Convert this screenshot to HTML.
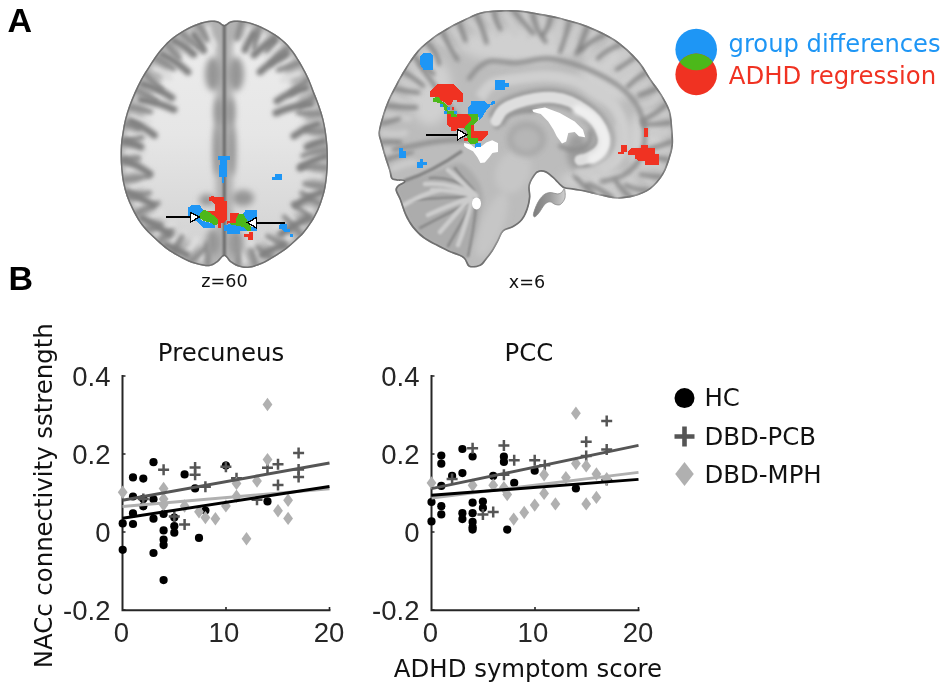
<!DOCTYPE html>
<html lang="en"><head><meta charset="utf-8"><title>Figure</title>
<style>
html,body{margin:0;padding:0;background:#fff}
body{width:945px;height:685px;overflow:hidden}
svg{display:block}
text{white-space:pre}
</style></head><body>
<svg width="945" height="685" viewBox="0 0 945 685">
<rect width="945" height="685" fill="#fff"/>
<defs>
<filter id="b0" filterUnits="userSpaceOnUse" x="100" y="0" width="600" height="290"><feGaussianBlur stdDeviation="0.6"/></filter>
<filter id="b1" filterUnits="userSpaceOnUse" x="100" y="0" width="600" height="290"><feGaussianBlur stdDeviation="1"/></filter>
<filter id="b2" filterUnits="userSpaceOnUse" x="100" y="0" width="600" height="290"><feGaussianBlur stdDeviation="2"/></filter>
<filter id="b3" filterUnits="userSpaceOnUse" x="100" y="0" width="600" height="290"><feGaussianBlur stdDeviation="3.2"/></filter>
<filter id="b5" filterUnits="userSpaceOnUse" x="100" y="0" width="600" height="290"><feGaussianBlur stdDeviation="5"/></filter>
</defs>
<clipPath id="cax"><path d="M224.3 25.0C226.2 25.0 227.8 22.2 230.0 21.5C232.2 20.8 233.9 20.4 237.6 20.6C241.3 20.9 246.9 21.4 252.0 23.0C257.1 24.6 262.9 27.2 268.0 30.0C273.1 32.8 278.3 36.2 282.5 39.7C286.7 43.2 289.7 46.6 293.0 51.0C296.3 55.4 299.7 61.3 302.4 66.0C305.1 70.7 307.0 74.6 309.0 79.0C311.0 83.4 312.6 88.1 314.3 92.6C316.1 97.1 318.0 101.6 319.5 106.0C321.0 110.4 322.4 114.7 323.5 119.0C324.6 123.3 325.3 127.6 326.0 132.0C326.7 136.4 327.2 140.8 327.5 145.5C327.8 150.2 328.0 155.6 328.0 160.0C328.0 164.4 327.8 167.8 327.5 172.0C327.2 176.2 326.7 181.0 326.0 185.0C325.3 189.0 324.8 191.8 323.5 196.0C322.2 200.2 320.5 205.6 318.5 210.0C316.5 214.4 314.0 218.8 311.6 222.6C309.2 226.4 306.6 229.9 304.0 233.0C301.4 236.1 298.8 238.2 295.8 241.0C292.8 243.8 289.5 246.8 286.0 249.5C282.5 252.2 278.6 254.6 274.6 257.0C270.6 259.4 266.4 262.2 262.0 264.0C257.6 265.8 252.0 267.6 248.0 268.0C244.0 268.4 241.0 267.5 238.0 266.5C235.0 265.5 232.3 263.8 230.0 262.0C227.7 260.2 226.3 256.0 224.3 256.0C222.3 256.0 220.1 260.4 218.0 262.0C215.9 263.6 214.0 264.8 212.0 265.5C210.0 266.2 209.1 266.6 205.8 266.2C202.5 265.8 196.4 264.5 192.0 263.0C187.6 261.5 183.6 259.2 179.4 257.0C175.2 254.8 170.7 252.2 167.0 249.5C163.3 246.8 160.2 243.9 157.0 241.0C153.8 238.1 150.4 235.1 147.5 232.0C144.6 228.9 142.3 226.4 139.7 222.6C137.1 218.8 134.2 213.4 132.0 209.0C129.8 204.6 128.0 200.3 126.5 196.0C125.0 191.7 123.9 187.4 123.0 183.0C122.1 178.6 121.6 174.0 121.2 169.7C120.8 165.4 120.7 161.0 120.6 157.0C120.5 153.0 120.5 149.7 120.8 145.5C121.1 141.3 121.8 136.4 122.5 132.0C123.2 127.6 123.9 123.3 125.0 119.0C126.1 114.7 127.4 110.4 129.0 106.0C130.6 101.6 132.4 97.1 134.4 92.6C136.4 88.1 138.6 83.4 141.0 79.0C143.4 74.6 146.1 70.5 149.0 66.0C151.9 61.5 155.0 56.4 158.5 52.0C162.0 47.6 165.8 43.4 170.0 39.7C174.2 36.0 179.3 32.7 184.0 30.0C188.7 27.3 193.5 25.1 198.0 23.5C202.5 21.9 207.6 20.9 211.0 20.6C214.4 20.3 216.3 20.8 218.5 21.5C220.7 22.2 222.4 25.0 224.3 25.0Z"/></clipPath>
<g clip-path="url(#cax)">
<linearGradient id="gwm" x1="0" y1="40" x2="0" y2="250" gradientUnits="userSpaceOnUse"><stop offset="0" stop-color="#ececec"/><stop offset="0.45" stop-color="#e6e6e6"/><stop offset="1" stop-color="#d2d2d2"/></linearGradient>
<path d="M224.3 25.0C226.2 25.0 227.8 22.2 230.0 21.5C232.2 20.8 233.9 20.4 237.6 20.6C241.3 20.9 246.9 21.4 252.0 23.0C257.1 24.6 262.9 27.2 268.0 30.0C273.1 32.8 278.3 36.2 282.5 39.7C286.7 43.2 289.7 46.6 293.0 51.0C296.3 55.4 299.7 61.3 302.4 66.0C305.1 70.7 307.0 74.6 309.0 79.0C311.0 83.4 312.6 88.1 314.3 92.6C316.1 97.1 318.0 101.6 319.5 106.0C321.0 110.4 322.4 114.7 323.5 119.0C324.6 123.3 325.3 127.6 326.0 132.0C326.7 136.4 327.2 140.8 327.5 145.5C327.8 150.2 328.0 155.6 328.0 160.0C328.0 164.4 327.8 167.8 327.5 172.0C327.2 176.2 326.7 181.0 326.0 185.0C325.3 189.0 324.8 191.8 323.5 196.0C322.2 200.2 320.5 205.6 318.5 210.0C316.5 214.4 314.0 218.8 311.6 222.6C309.2 226.4 306.6 229.9 304.0 233.0C301.4 236.1 298.8 238.2 295.8 241.0C292.8 243.8 289.5 246.8 286.0 249.5C282.5 252.2 278.6 254.6 274.6 257.0C270.6 259.4 266.4 262.2 262.0 264.0C257.6 265.8 252.0 267.6 248.0 268.0C244.0 268.4 241.0 267.5 238.0 266.5C235.0 265.5 232.3 263.8 230.0 262.0C227.7 260.2 226.3 256.0 224.3 256.0C222.3 256.0 220.1 260.4 218.0 262.0C215.9 263.6 214.0 264.8 212.0 265.5C210.0 266.2 209.1 266.6 205.8 266.2C202.5 265.8 196.4 264.5 192.0 263.0C187.6 261.5 183.6 259.2 179.4 257.0C175.2 254.8 170.7 252.2 167.0 249.5C163.3 246.8 160.2 243.9 157.0 241.0C153.8 238.1 150.4 235.1 147.5 232.0C144.6 228.9 142.3 226.4 139.7 222.6C137.1 218.8 134.2 213.4 132.0 209.0C129.8 204.6 128.0 200.3 126.5 196.0C125.0 191.7 123.9 187.4 123.0 183.0C122.1 178.6 121.6 174.0 121.2 169.7C120.8 165.4 120.7 161.0 120.6 157.0C120.5 153.0 120.5 149.7 120.8 145.5C121.1 141.3 121.8 136.4 122.5 132.0C123.2 127.6 123.9 123.3 125.0 119.0C126.1 114.7 127.4 110.4 129.0 106.0C130.6 101.6 132.4 97.1 134.4 92.6C136.4 88.1 138.6 83.4 141.0 79.0C143.4 74.6 146.1 70.5 149.0 66.0C151.9 61.5 155.0 56.4 158.5 52.0C162.0 47.6 165.8 43.4 170.0 39.7C174.2 36.0 179.3 32.7 184.0 30.0C188.7 27.3 193.5 25.1 198.0 23.5C202.5 21.9 207.6 20.9 211.0 20.6C214.4 20.3 216.3 20.8 218.5 21.5C220.7 22.2 222.4 25.0 224.3 25.0Z" fill="url(#gwm)"/>
<path d="M224.3 25.0C226.2 25.0 227.8 22.2 230.0 21.5C232.2 20.8 233.9 20.4 237.6 20.6C241.3 20.9 246.9 21.4 252.0 23.0C257.1 24.6 262.9 27.2 268.0 30.0C273.1 32.8 278.3 36.2 282.5 39.7C286.7 43.2 289.7 46.6 293.0 51.0C296.3 55.4 299.7 61.3 302.4 66.0C305.1 70.7 307.0 74.6 309.0 79.0C311.0 83.4 312.6 88.1 314.3 92.6C316.1 97.1 318.0 101.6 319.5 106.0C321.0 110.4 322.4 114.7 323.5 119.0C324.6 123.3 325.3 127.6 326.0 132.0C326.7 136.4 327.2 140.8 327.5 145.5C327.8 150.2 328.0 155.6 328.0 160.0C328.0 164.4 327.8 167.8 327.5 172.0C327.2 176.2 326.7 181.0 326.0 185.0C325.3 189.0 324.8 191.8 323.5 196.0C322.2 200.2 320.5 205.6 318.5 210.0C316.5 214.4 314.0 218.8 311.6 222.6C309.2 226.4 306.6 229.9 304.0 233.0C301.4 236.1 298.8 238.2 295.8 241.0C292.8 243.8 289.5 246.8 286.0 249.5C282.5 252.2 278.6 254.6 274.6 257.0C270.6 259.4 266.4 262.2 262.0 264.0C257.6 265.8 252.0 267.6 248.0 268.0C244.0 268.4 241.0 267.5 238.0 266.5C235.0 265.5 232.3 263.8 230.0 262.0C227.7 260.2 226.3 256.0 224.3 256.0C222.3 256.0 220.1 260.4 218.0 262.0C215.9 263.6 214.0 264.8 212.0 265.5C210.0 266.2 209.1 266.6 205.8 266.2C202.5 265.8 196.4 264.5 192.0 263.0C187.6 261.5 183.6 259.2 179.4 257.0C175.2 254.8 170.7 252.2 167.0 249.5C163.3 246.8 160.2 243.9 157.0 241.0C153.8 238.1 150.4 235.1 147.5 232.0C144.6 228.9 142.3 226.4 139.7 222.6C137.1 218.8 134.2 213.4 132.0 209.0C129.8 204.6 128.0 200.3 126.5 196.0C125.0 191.7 123.9 187.4 123.0 183.0C122.1 178.6 121.6 174.0 121.2 169.7C120.8 165.4 120.7 161.0 120.6 157.0C120.5 153.0 120.5 149.7 120.8 145.5C121.1 141.3 121.8 136.4 122.5 132.0C123.2 127.6 123.9 123.3 125.0 119.0C126.1 114.7 127.4 110.4 129.0 106.0C130.6 101.6 132.4 97.1 134.4 92.6C136.4 88.1 138.6 83.4 141.0 79.0C143.4 74.6 146.1 70.5 149.0 66.0C151.9 61.5 155.0 56.4 158.5 52.0C162.0 47.6 165.8 43.4 170.0 39.7C174.2 36.0 179.3 32.7 184.0 30.0C188.7 27.3 193.5 25.1 198.0 23.5C202.5 21.9 207.6 20.9 211.0 20.6C214.4 20.3 216.3 20.8 218.5 21.5C220.7 22.2 222.4 25.0 224.3 25.0Z" fill="none" stroke="#b4b4b4" stroke-width="36" filter="url(#b3)"/>
<path d="M224.3 20V262" fill="none" stroke="#b0b0b0" stroke-width="17" filter="url(#b3)"/>
<g filter="url(#b2)" fill="none" stroke="#dedede" stroke-width="6" stroke-linecap="round"><path d="M248.7 28.4Q245.8 38.0 243.6 45.7"/><path d="M264.5 34.9Q259.5 42.1 256.2 50.9"/><path d="M278.9 44.6Q271.8 52.3 265.2 56.3"/><path d="M290.3 57.9Q282.7 64.7 276.8 69.9"/><path d="M299.3 73.1Q290.7 75.2 282.7 80.1"/><path d="M306.6 89.3Q298.7 91.9 290.5 97.5"/><path d="M313.1 105.9Q305.9 105.9 295.3 109.1"/><path d="M318.2 123.0Q310.9 125.6 300.6 126.8"/><path d="M320.9 140.6Q311.2 138.5 302.9 140.1"/><path d="M322.0 158.5Q314.4 157.5 304.0 158.7"/><path d="M321.0 176.4Q311.6 175.0 303.1 174.5"/><path d="M317.8 194.0Q311.1 190.3 300.2 190.0"/><path d="M311.4 210.6Q304.8 210.5 293.8 206.6"/><path d="M302.0 225.6Q294.3 222.7 287.2 215.4"/><path d="M289.9 238.4Q281.8 233.6 276.5 226.3"/><path d="M276.0 249.0Q271.1 242.2 264.6 235.1"/><path d="M261.1 257.7Q255.0 249.0 250.4 243.2"/><path d="M244.8 262.2Q241.3 253.0 236.9 245.9"/><path d="M200.9 259.0Q202.7 252.9 209.0 242.9"/><path d="M185.0 253.1Q192.7 248.1 196.2 239.0"/><path d="M170.1 244.3Q177.7 236.5 184.5 233.5"/><path d="M156.9 232.8Q163.1 227.4 172.6 224.0"/><path d="M145.0 219.8Q153.4 215.9 161.6 212.8"/><path d="M136.5 204.2Q145.9 201.6 154.1 200.6"/><path d="M130.4 187.5Q140.9 184.9 147.7 182.6"/><path d="M127.3 169.9Q135.5 168.1 145.3 169.3"/><path d="M126.7 152.0Q137.3 150.4 144.7 152.0"/><path d="M128.3 134.2Q139.3 137.2 146.0 137.2"/><path d="M131.9 116.7Q138.1 119.8 149.3 121.7"/><path d="M137.9 99.9Q144.0 102.3 154.5 106.9"/><path d="M145.3 83.8Q153.9 86.6 162.2 90.1"/><path d="M154.5 68.6Q163.5 70.9 169.8 78.0"/><path d="M164.6 54.3Q170.2 57.4 179.6 64.3"/><path d="M177.0 42.1Q185.9 50.2 190.0 54.7"/><path d="M191.6 33.1Q196.7 39.6 201.7 48.0"/><path d="M207.7 27.5Q209.6 36.8 212.9 44.7"/></g>
<g filter="url(#b2)" fill="none" stroke="#8a8a8a" stroke-width="5" stroke-linecap="round"><path d="M241.7 21.3Q238.7 30.4 236.9 38.5"/><path d="M259.4 26.2Q254.5 38.9 254.5 48.2"/><path d="M275.6 35.1Q273.5 42.7 266.5 50.7"/><path d="M289.4 47.1Q280.8 53.7 270.7 63.8"/><path d="M300.0 62.2Q289.5 67.2 278.7 69.9"/><path d="M308.7 78.5Q301.2 86.4 291.1 93.3"/><path d="M315.5 95.7Q309.6 100.8 300.1 106.2"/><path d="M321.7 113.1Q311.0 115.0 298.1 112.6"/><path d="M325.8 131.1Q315.7 132.5 306.2 129.6"/><path d="M327.6 149.5Q313.4 151.2 302.8 155.7"/><path d="M327.7 168.0Q315.0 166.3 301.1 166.5"/><path d="M325.7 186.4Q314.5 185.5 304.8 183.8"/><path d="M320.6 204.2Q312.1 200.6 301.7 192.8"/><path d="M312.6 220.8Q303.9 210.9 293.4 204.3"/><path d="M301.5 235.5Q294.9 226.5 284.3 216.9"/><path d="M287.8 247.9Q279.3 242.4 267.4 236.1"/><path d="M272.4 258.2Q266.7 255.3 257.5 247.4"/><path d="M255.7 265.8Q253.0 256.3 251.2 250.4"/><path d="M237.7 266.3Q239.1 254.8 236.7 247.8"/><path d="M207.7 266.0Q208.6 254.0 207.2 243.6"/><path d="M189.8 262.0Q199.0 255.5 208.1 244.1"/><path d="M173.5 253.4Q178.2 242.7 182.0 236.7"/><path d="M158.7 242.4Q165.8 235.0 171.8 231.0"/><path d="M145.4 229.5Q151.9 229.6 160.3 225.1"/><path d="M135.0 214.3Q146.4 208.8 158.2 203.1"/><path d="M127.2 197.6Q138.6 195.9 149.4 192.9"/><path d="M122.6 179.7Q135.2 178.8 148.5 175.7"/><path d="M120.8 161.3Q132.0 159.8 138.4 158.1"/><path d="M121.1 142.9Q131.2 140.5 142.0 137.4"/><path d="M123.9 124.6Q132.0 124.0 138.8 127.7"/><path d="M128.8 106.7Q140.6 108.5 150.7 111.8"/><path d="M135.8 89.7Q143.7 93.1 156.4 101.0"/><path d="M144.5 73.3Q151.6 81.1 161.2 89.3"/><path d="M154.6 57.8Q163.5 62.4 173.7 68.9"/><path d="M166.3 43.6Q171.7 50.3 179.2 58.2"/><path d="M180.8 32.2Q190.4 41.2 199.4 47.8"/><path d="M197.2 23.9Q203.5 30.6 206.8 40.0"/></g>
<g filter="url(#b2)" fill="none" stroke="#808080" stroke-width="7" stroke-linecap="round"><path d="M142.6 84.0Q158.0 88.0 172.0 97.8"/><path d="M140.6 99.7Q158.0 102.0 174.0 109.6"/><path d="M306.0 88.0Q291.0 91.0 277.0 101.0"/><path d="M311.0 104.0Q294.0 105.0 276.0 113.0"/><path d="M130.8 121.4Q143.0 126.0 154.4 135.2"/><path d="M318.0 124.0Q305.0 128.0 294.0 136.0"/><path d="M162.3 54.4Q176.0 61.0 188.0 72.0"/><path d="M286.0 54.0Q272.0 61.0 260.0 72.0"/><path d="M174.0 40.6Q185.0 46.0 193.8 54.4"/><path d="M274.0 40.0Q263.0 46.0 254.0 55.0"/><path d="M193.8 34.7Q200.0 42.0 203.7 50.5"/><path d="M254.0 34.0Q248.0 42.0 245.0 50.0"/><path d="M124.9 141.0Q133.0 143.0 141.0 147.0"/><path d="M324.0 141.0Q315.0 143.0 307.0 147.0"/><path d="M124.0 160.0Q138.0 165.0 150.0 174.0"/><path d="M326.0 156.0Q312.0 160.0 300.0 168.0"/><path d="M127.0 192.0Q140.0 197.0 153.0 205.0"/><path d="M322.0 192.0Q308.0 197.0 296.0 205.0"/><path d="M142.0 218.0Q156.0 225.0 169.0 234.0"/><path d="M308.0 218.0Q294.0 225.0 281.0 234.0"/><path d="M166.0 245.0Q176.0 249.0 187.0 255.0"/><path d="M283.0 245.0Q272.0 249.0 262.0 255.0"/></g>
<g filter="url(#b3)" fill="#969696"><ellipse cx="213" cy="74" rx="8" ry="17"/><ellipse cx="236" cy="74" rx="8" ry="17"/><ellipse cx="218.5" cy="112" rx="4.5" ry="14"/><ellipse cx="230.5" cy="112" rx="4.5" ry="14"/><ellipse cx="217" cy="150" rx="4" ry="26"/><ellipse cx="232" cy="150" rx="4" ry="26"/><ellipse cx="243" cy="198" rx="11" ry="8"/><ellipse cx="207" cy="200" rx="8" ry="6"/><ellipse cx="213" cy="242" rx="7" ry="13"/><ellipse cx="236" cy="242" rx="7" ry="13"/></g>
<path d="M224.3 25.0C226.2 25.0 227.8 22.2 230.0 21.5C232.2 20.8 233.9 20.4 237.6 20.6C241.3 20.9 246.9 21.4 252.0 23.0C257.1 24.6 262.9 27.2 268.0 30.0C273.1 32.8 278.3 36.2 282.5 39.7C286.7 43.2 289.7 46.6 293.0 51.0C296.3 55.4 299.7 61.3 302.4 66.0C305.1 70.7 307.0 74.6 309.0 79.0C311.0 83.4 312.6 88.1 314.3 92.6C316.1 97.1 318.0 101.6 319.5 106.0C321.0 110.4 322.4 114.7 323.5 119.0C324.6 123.3 325.3 127.6 326.0 132.0C326.7 136.4 327.2 140.8 327.5 145.5C327.8 150.2 328.0 155.6 328.0 160.0C328.0 164.4 327.8 167.8 327.5 172.0C327.2 176.2 326.7 181.0 326.0 185.0C325.3 189.0 324.8 191.8 323.5 196.0C322.2 200.2 320.5 205.6 318.5 210.0C316.5 214.4 314.0 218.8 311.6 222.6C309.2 226.4 306.6 229.9 304.0 233.0C301.4 236.1 298.8 238.2 295.8 241.0C292.8 243.8 289.5 246.8 286.0 249.5C282.5 252.2 278.6 254.6 274.6 257.0C270.6 259.4 266.4 262.2 262.0 264.0C257.6 265.8 252.0 267.6 248.0 268.0C244.0 268.4 241.0 267.5 238.0 266.5C235.0 265.5 232.3 263.8 230.0 262.0C227.7 260.2 226.3 256.0 224.3 256.0C222.3 256.0 220.1 260.4 218.0 262.0C215.9 263.6 214.0 264.8 212.0 265.5C210.0 266.2 209.1 266.6 205.8 266.2C202.5 265.8 196.4 264.5 192.0 263.0C187.6 261.5 183.6 259.2 179.4 257.0C175.2 254.8 170.7 252.2 167.0 249.5C163.3 246.8 160.2 243.9 157.0 241.0C153.8 238.1 150.4 235.1 147.5 232.0C144.6 228.9 142.3 226.4 139.7 222.6C137.1 218.8 134.2 213.4 132.0 209.0C129.8 204.6 128.0 200.3 126.5 196.0C125.0 191.7 123.9 187.4 123.0 183.0C122.1 178.6 121.6 174.0 121.2 169.7C120.8 165.4 120.7 161.0 120.6 157.0C120.5 153.0 120.5 149.7 120.8 145.5C121.1 141.3 121.8 136.4 122.5 132.0C123.2 127.6 123.9 123.3 125.0 119.0C126.1 114.7 127.4 110.4 129.0 106.0C130.6 101.6 132.4 97.1 134.4 92.6C136.4 88.1 138.6 83.4 141.0 79.0C143.4 74.6 146.1 70.5 149.0 66.0C151.9 61.5 155.0 56.4 158.5 52.0C162.0 47.6 165.8 43.4 170.0 39.7C174.2 36.0 179.3 32.7 184.0 30.0C188.7 27.3 193.5 25.1 198.0 23.5C202.5 21.9 207.6 20.9 211.0 20.6C214.4 20.3 216.3 20.8 218.5 21.5C220.7 22.2 222.4 25.0 224.3 25.0Z" fill="none" stroke="#707070" stroke-width="3" filter="url(#b0)"/>
<path d="M224.3 20V260" stroke="#686868" stroke-width="3" fill="none" filter="url(#b1)"/>
</g>
<clipPath id="csg"><path d="M497.0 10.3C503.3 10.0 510.9 9.8 518.0 10.3C525.0 10.8 532.2 12.3 539.3 13.5C546.4 14.7 552.5 15.6 560.5 17.7C568.5 19.8 578.1 22.1 587.3 25.8C596.4 29.5 606.9 34.1 615.4 39.8C623.9 45.5 632.1 53.5 638.0 60.0C643.9 66.5 646.9 73.3 650.8 79.0C654.7 84.7 658.2 88.6 661.4 93.9C664.6 99.2 668.1 104.8 670.0 110.8C671.9 116.8 672.0 124.1 672.5 129.8C673.0 135.5 673.4 140.3 673.0 145.0C672.6 149.7 671.6 153.1 670.0 158.0C668.4 162.9 666.7 169.1 663.5 174.3C660.3 179.5 655.7 185.3 650.8 189.0C645.9 192.7 639.6 194.9 634.0 196.5C628.4 198.1 622.7 198.8 617.0 198.6C611.3 198.4 605.3 196.5 600.0 195.4C594.7 194.3 589.8 192.8 585.4 191.9C581.0 191.0 577.1 190.6 573.6 190.0C570.1 189.4 566.8 189.5 564.4 188.6C562.0 187.7 561.1 186.4 559.1 184.7C557.1 182.9 554.8 180.1 552.6 178.1C550.4 176.1 548.2 173.9 546.0 172.9C543.8 171.9 541.3 171.6 539.5 172.0C537.7 172.4 536.6 173.3 535.0 175.5C533.4 177.7 530.8 181.7 530.0 185.3C529.2 188.9 530.8 193.1 530.5 197.0C530.2 200.9 529.3 205.2 528.0 209.0C526.7 212.8 525.0 216.9 522.5 220.0C520.0 223.1 516.2 225.6 513.0 227.5C509.8 229.4 505.9 229.2 503.5 231.5C501.1 233.8 500.2 237.8 498.5 241.0C496.8 244.2 494.9 248.0 493.0 251.0C491.1 254.0 489.1 256.5 487.0 259.0C484.9 261.5 483.5 264.7 480.5 266.0C477.5 267.3 471.9 268.3 469.0 267.0C466.1 265.7 466.4 260.6 463.0 258.0C459.6 255.4 452.9 253.8 448.3 251.7C443.7 249.6 439.8 247.6 435.6 245.3C431.4 243.0 426.8 240.9 422.9 237.9C419.0 234.9 415.3 231.3 412.3 227.4C409.3 223.5 407.0 219.3 404.9 214.7C402.8 210.1 401.2 203.9 399.6 199.8C398.0 195.7 395.7 192.8 395.4 190.3C395.1 187.8 396.6 186.5 398.0 185.0C399.4 183.5 404.2 182.2 404.0 181.5C403.8 180.8 399.1 181.3 397.0 180.8C394.9 180.3 392.5 180.5 391.2 178.7C389.9 176.9 390.1 173.7 389.0 170.2C387.9 166.7 386.2 162.1 384.8 157.5C383.4 152.9 381.7 146.9 380.6 142.7C379.6 138.4 378.1 136.6 378.5 132.0C378.9 127.4 381.1 120.3 382.7 115.0C384.3 109.7 385.9 105.1 388.0 100.2C390.1 95.3 392.6 90.7 395.4 85.4C398.2 80.1 401.3 74.3 405.0 68.5C408.7 62.7 412.9 55.8 417.6 50.5C422.4 45.2 428.0 40.8 433.5 36.7C439.0 32.7 445.1 29.2 450.4 26.2C455.7 23.2 460.3 21.1 465.2 18.8C470.1 16.5 474.7 13.8 480.0 12.4C485.3 11.0 490.7 10.7 497.0 10.3Z"/></clipPath>
<g clip-path="url(#csg)">
<path d="M497.0 10.3C503.3 10.0 510.9 9.8 518.0 10.3C525.0 10.8 532.2 12.3 539.3 13.5C546.4 14.7 552.5 15.6 560.5 17.7C568.5 19.8 578.1 22.1 587.3 25.8C596.4 29.5 606.9 34.1 615.4 39.8C623.9 45.5 632.1 53.5 638.0 60.0C643.9 66.5 646.9 73.3 650.8 79.0C654.7 84.7 658.2 88.6 661.4 93.9C664.6 99.2 668.1 104.8 670.0 110.8C671.9 116.8 672.0 124.1 672.5 129.8C673.0 135.5 673.4 140.3 673.0 145.0C672.6 149.7 671.6 153.1 670.0 158.0C668.4 162.9 666.7 169.1 663.5 174.3C660.3 179.5 655.7 185.3 650.8 189.0C645.9 192.7 639.6 194.9 634.0 196.5C628.4 198.1 622.7 198.8 617.0 198.6C611.3 198.4 605.3 196.5 600.0 195.4C594.7 194.3 589.8 192.8 585.4 191.9C581.0 191.0 577.1 190.6 573.6 190.0C570.1 189.4 566.8 189.5 564.4 188.6C562.0 187.7 561.1 186.4 559.1 184.7C557.1 182.9 554.8 180.1 552.6 178.1C550.4 176.1 548.2 173.9 546.0 172.9C543.8 171.9 541.3 171.6 539.5 172.0C537.7 172.4 536.6 173.3 535.0 175.5C533.4 177.7 530.8 181.7 530.0 185.3C529.2 188.9 530.8 193.1 530.5 197.0C530.2 200.9 529.3 205.2 528.0 209.0C526.7 212.8 525.0 216.9 522.5 220.0C520.0 223.1 516.2 225.6 513.0 227.5C509.8 229.4 505.9 229.2 503.5 231.5C501.1 233.8 500.2 237.8 498.5 241.0C496.8 244.2 494.9 248.0 493.0 251.0C491.1 254.0 489.1 256.5 487.0 259.0C484.9 261.5 483.5 264.7 480.5 266.0C477.5 267.3 471.9 268.3 469.0 267.0C466.1 265.7 466.4 260.6 463.0 258.0C459.6 255.4 452.9 253.8 448.3 251.7C443.7 249.6 439.8 247.6 435.6 245.3C431.4 243.0 426.8 240.9 422.9 237.9C419.0 234.9 415.3 231.3 412.3 227.4C409.3 223.5 407.0 219.3 404.9 214.7C402.8 210.1 401.2 203.9 399.6 199.8C398.0 195.7 395.7 192.8 395.4 190.3C395.1 187.8 396.6 186.5 398.0 185.0C399.4 183.5 404.2 182.2 404.0 181.5C403.8 180.8 399.1 181.3 397.0 180.8C394.9 180.3 392.5 180.5 391.2 178.7C389.9 176.9 390.1 173.7 389.0 170.2C387.9 166.7 386.2 162.1 384.8 157.5C383.4 152.9 381.7 146.9 380.6 142.7C379.6 138.4 378.1 136.6 378.5 132.0C378.9 127.4 381.1 120.3 382.7 115.0C384.3 109.7 385.9 105.1 388.0 100.2C390.1 95.3 392.6 90.7 395.4 85.4C398.2 80.1 401.3 74.3 405.0 68.5C408.7 62.7 412.9 55.8 417.6 50.5C422.4 45.2 428.0 40.8 433.5 36.7C439.0 32.7 445.1 29.2 450.4 26.2C455.7 23.2 460.3 21.1 465.2 18.8C470.1 16.5 474.7 13.8 480.0 12.4C485.3 11.0 490.7 10.7 497.0 10.3Z" fill="#bcbcbc"/>
<g filter="url(#b5)" fill="#d0d0d0"><ellipse cx="520" cy="45" rx="60" ry="18"/><ellipse cx="610" cy="75" rx="30" ry="28"/><ellipse cx="430" cy="90" rx="22" ry="35"/><ellipse cx="645" cy="140" rx="18" ry="30"/><ellipse cx="600" cy="180" rx="40" ry="10"/></g>
<path d="M395.0 188.0C395.7 184.8 399.8 183.0 404.0 181.0C408.2 179.0 414.0 177.8 420.0 176.0C426.0 174.2 433.7 172.2 440.0 170.0C446.3 167.8 453.0 163.0 458.0 163.0C463.0 163.0 466.3 166.3 470.0 170.0C473.7 173.7 477.8 180.0 480.0 185.0C482.2 190.0 483.0 195.0 483.0 200.0C483.0 205.0 480.8 209.7 480.0 215.0C479.2 220.3 479.7 226.2 478.0 232.0C476.3 237.8 472.3 245.0 470.0 250.0C467.7 255.0 467.7 261.7 464.0 262.0C460.3 262.3 452.8 254.8 448.0 252.0C443.2 249.2 439.2 247.3 435.0 245.0C430.8 242.7 426.8 241.0 423.0 238.0C419.2 235.0 415.0 230.8 412.0 227.0C409.0 223.2 407.0 219.5 405.0 215.0C403.0 210.5 401.7 204.5 400.0 200.0C398.3 195.5 394.3 191.2 395.0 188.0Z" fill="#acacac" filter="url(#b2)"/>
<g filter="url(#b1)" fill="none" stroke="#8a8a8a" stroke-width="2.6" stroke-linecap="round"><path d="M474 190Q450 176 430 178"/><path d="M474 197Q445 197 412 200"/><path d="M472 202Q450 212 420 228"/><path d="M472 204Q460 225 448 246"/><path d="M476 206Q474 230 468 256"/><path d="M455 168Q462 178 472 188"/></g>
<path d="M404 181Q432 172 462 151" fill="none" stroke="#808080" stroke-width="3.2" filter="url(#b1)"/>
<g filter="url(#b1)" fill="none" stroke="#cccccc" stroke-width="4.6" stroke-linecap="round"><path d="M476 196Q455 190 432 190"/><path d="M476 196Q452 182 425 184"/><path d="M476 196Q460 180 448 170"/><path d="M470 198Q450 205 428 215"/><path d="M470 198Q455 215 440 232"/><path d="M472 200Q466 225 458 245"/><path d="M440 190Q420 195 404 205"/></g>
<path d="M497.0 10.3C503.3 10.0 510.9 9.8 518.0 10.3C525.0 10.8 532.2 12.3 539.3 13.5C546.4 14.7 552.5 15.6 560.5 17.7C568.5 19.8 578.1 22.1 587.3 25.8C596.4 29.5 606.9 34.1 615.4 39.8C623.9 45.5 632.1 53.5 638.0 60.0C643.9 66.5 646.9 73.3 650.8 79.0C654.7 84.7 658.2 88.6 661.4 93.9C664.6 99.2 668.1 104.8 670.0 110.8C671.9 116.8 672.0 124.1 672.5 129.8C673.0 135.5 673.4 140.3 673.0 145.0C672.6 149.7 671.6 153.1 670.0 158.0C668.4 162.9 666.7 169.1 663.5 174.3C660.3 179.5 655.7 185.3 650.8 189.0C645.9 192.7 639.6 194.9 634.0 196.5C628.4 198.1 622.7 198.8 617.0 198.6C611.3 198.4 605.3 196.5 600.0 195.4C594.7 194.3 589.8 192.8 585.4 191.9C581.0 191.0 577.1 190.6 573.6 190.0C570.1 189.4 566.8 189.5 564.4 188.6C562.0 187.7 561.1 186.4 559.1 184.7C557.1 182.9 554.8 180.1 552.6 178.1C550.4 176.1 548.2 173.9 546.0 172.9C543.8 171.9 541.3 171.6 539.5 172.0C537.7 172.4 536.6 173.3 535.0 175.5C533.4 177.7 530.8 181.7 530.0 185.3C529.2 188.9 530.8 193.1 530.5 197.0C530.2 200.9 529.3 205.2 528.0 209.0C526.7 212.8 525.0 216.9 522.5 220.0C520.0 223.1 516.2 225.6 513.0 227.5C509.8 229.4 505.9 229.2 503.5 231.5C501.1 233.8 500.2 237.8 498.5 241.0C496.8 244.2 494.9 248.0 493.0 251.0C491.1 254.0 489.1 256.5 487.0 259.0C484.9 261.5 483.5 264.7 480.5 266.0C477.5 267.3 471.9 268.3 469.0 267.0C466.1 265.7 466.4 260.6 463.0 258.0C459.6 255.4 452.9 253.8 448.3 251.7C443.7 249.6 439.8 247.6 435.6 245.3C431.4 243.0 426.8 240.9 422.9 237.9C419.0 234.9 415.3 231.3 412.3 227.4C409.3 223.5 407.0 219.3 404.9 214.7C402.8 210.1 401.2 203.9 399.6 199.8C398.0 195.7 395.7 192.8 395.4 190.3C395.1 187.8 396.6 186.5 398.0 185.0C399.4 183.5 404.2 182.2 404.0 181.5C403.8 180.8 399.1 181.3 397.0 180.8C394.9 180.3 392.5 180.5 391.2 178.7C389.9 176.9 390.1 173.7 389.0 170.2C387.9 166.7 386.2 162.1 384.8 157.5C383.4 152.9 381.7 146.9 380.6 142.7C379.6 138.4 378.1 136.6 378.5 132.0C378.9 127.4 381.1 120.3 382.7 115.0C384.3 109.7 385.9 105.1 388.0 100.2C390.1 95.3 392.6 90.7 395.4 85.4C398.2 80.1 401.3 74.3 405.0 68.5C408.7 62.7 412.9 55.8 417.6 50.5C422.4 45.2 428.0 40.8 433.5 36.7C439.0 32.7 445.1 29.2 450.4 26.2C455.7 23.2 460.3 21.1 465.2 18.8C470.1 16.5 474.7 13.8 480.0 12.4C485.3 11.0 490.7 10.7 497.0 10.3Z" fill="none" stroke="#707070" stroke-width="3.4" filter="url(#b0)"/>
<g filter="url(#b2)" fill="none" stroke="#cbcbcb" stroke-width="7" stroke-linecap="round"><path d="M393.7 168.4Q405.9 162.6 413.8 162.6"/><path d="M388.0 150.9Q398.4 152.5 409.0 152.6"/><path d="M383.7 133.0Q396.9 135.6 404.7 133.0"/><path d="M387.8 115.1Q398.1 118.4 408.6 118.2"/><path d="M394.6 98.0Q403.6 103.7 414.1 105.7"/><path d="M403.2 81.7Q412.0 84.9 421.3 92.4"/><path d="M412.8 66.0Q424.3 71.4 432.3 73.9"/><path d="M423.9 51.5Q434.2 56.8 438.9 66.2"/><path d="M437.9 39.6Q444.6 43.1 455.1 51.7"/><path d="M453.6 30.0Q462.8 41.6 466.2 46.9"/><path d="M470.1 22.0Q479.6 28.7 483.3 38.4"/><path d="M487.4 16.3Q494.1 22.3 497.1 34.9"/><path d="M505.7 15.1Q513.1 22.8 515.2 33.8"/><path d="M523.9 16.0Q527.0 27.6 528.7 36.4"/><path d="M542.0 19.0Q542.8 28.8 546.3 39.6"/><path d="M559.8 22.7Q556.2 33.7 557.2 43.5"/><path d="M577.2 28.0Q571.7 37.8 567.8 46.8"/><path d="M594.0 34.7Q589.0 46.1 587.5 54.8"/><path d="M610.3 42.8Q608.6 55.4 600.8 61.5"/><path d="M624.3 54.4Q621.6 61.9 611.9 71.4"/><path d="M636.9 67.3Q629.9 71.0 618.8 78.0"/><path d="M647.1 82.4Q638.7 89.0 627.9 90.8"/><path d="M657.6 97.3Q650.0 105.2 638.3 105.7"/><path d="M665.4 113.8Q655.2 111.8 644.5 116.1"/><path d="M667.6 131.9Q655.9 133.9 646.6 132.5"/><path d="M666.7 150.0Q657.0 145.5 646.1 146.0"/><path d="M661.0 167.2Q652.1 161.3 641.1 160.5"/><path d="M650.5 182.0Q642.9 173.4 632.7 170.7"/><path d="M635.2 191.4Q624.4 183.1 619.4 177.5"/><path d="M617.2 194.9Q610.5 188.0 602.2 180.2"/><path d="M598.9 192.2Q591.8 182.7 585.4 176.2"/></g>
<g filter="url(#b2)" fill="none" stroke="#828282" stroke-width="3.8" stroke-linecap="round"><path d="M385.8 160.5Q396.4 155.1 412.0 152.5"/><path d="M380.5 142.2Q392.2 141.4 400.5 142.5"/><path d="M380.6 123.7Q388.9 122.1 399.2 118.9"/><path d="M386.1 105.5Q403.7 107.5 416.5 107.5"/><path d="M394.0 88.3Q406.2 92.0 418.5 92.6"/><path d="M403.2 71.7Q413.0 76.8 423.4 85.9"/><path d="M413.8 55.9Q420.2 64.3 433.5 73.8"/><path d="M426.9 42.4Q436.7 52.1 439.4 63.9"/><path d="M442.3 31.3Q448.0 45.3 457.5 59.8"/><path d="M458.8 22.0Q463.4 34.5 465.5 40.8"/><path d="M476.1 14.1Q483.2 29.0 486.6 42.9"/><path d="M494.6 10.6Q493.5 17.1 500.4 29.4"/><path d="M513.6 10.3Q520.2 18.7 533.2 33.5"/><path d="M532.5 12.5Q535.2 29.8 545.6 41.7"/><path d="M551.1 15.8Q548.7 27.7 543.5 34.2"/><path d="M569.6 20.4Q567.2 32.7 560.0 52.3"/><path d="M587.7 26.0Q583.8 36.9 576.4 54.1"/><path d="M604.7 34.5Q588.8 41.5 580.0 51.4"/><path d="M620.7 44.5Q607.1 49.0 597.6 58.6"/><path d="M634.8 57.2Q627.8 62.5 616.7 69.6"/><path d="M646.2 72.2Q635.6 78.9 627.4 86.9"/><path d="M657.1 87.8Q652.0 90.9 639.3 95.3"/><path d="M666.6 104.2Q655.7 114.6 641.7 120.8"/><path d="M671.5 122.3Q657.0 124.6 642.8 124.7"/><path d="M672.9 141.2Q654.2 148.0 642.0 150.9"/><path d="M669.3 159.8Q652.9 158.0 637.4 152.8"/><path d="M661.3 176.8Q648.5 176.3 640.5 174.5"/><path d="M648.1 190.2Q638.4 191.3 625.7 185.1"/><path d="M630.5 196.9Q622.2 191.4 615.2 180.1"/><path d="M611.7 197.6Q597.6 187.0 588.0 184.0"/><path d="M593.1 193.7Q581.2 183.7 574.6 175.9"/></g>
<path d="M480.0 98.0C482.0 95.7 486.0 87.2 492.0 84.0C498.0 80.8 507.0 80.3 516.0 79.0C525.0 77.7 536.7 75.8 546.0 76.0C555.3 76.2 564.0 77.7 572.0 80.0C580.0 82.3 587.3 86.0 594.0 90.0C600.7 94.0 607.3 98.7 612.0 104.0C616.7 109.3 620.0 115.7 622.0 122.0C624.0 128.3 625.0 135.7 624.0 142.0C623.0 148.3 620.0 155.3 616.0 160.0C612.0 164.7 602.7 168.3 600.0 170.0" fill="none" stroke="#cfcfcf" stroke-width="11" filter="url(#b2)"/>
<path d="M468.0 80.0C469.7 78.0 474.2 71.2 478.0 68.0C481.8 64.8 484.7 61.8 491.0 61.0C497.3 60.2 506.8 63.4 516.0 63.0C525.2 62.6 536.7 58.4 546.0 58.5C555.3 58.6 563.4 61.0 572.0 63.5C580.6 66.0 589.5 69.7 597.5 73.6C605.5 77.5 613.6 81.9 620.0 87.0C626.4 92.1 632.0 97.7 636.0 104.0C640.0 110.3 642.7 118.2 644.0 125.0C645.3 131.8 645.0 138.8 644.0 145.0C643.0 151.2 641.7 156.8 638.0 162.0C634.3 167.2 628.3 172.7 622.0 176.0C615.7 179.3 603.7 181.0 600.0 182.0" fill="none" stroke="#8a8a8a" stroke-width="4" filter="url(#b2)"/>
<path d="M418.0 62.0C420.3 65.3 427.0 75.0 432.0 82.0C437.0 89.0 443.0 97.0 448.0 104.0C453.0 111.0 457.7 118.3 462.0 124.0C466.3 129.7 472.0 135.7 474.0 138.0" fill="none" stroke="#8c8c8c" stroke-width="4.5" filter="url(#b2)"/>
<path d="M392.0 150.0C395.3 149.3 405.3 147.3 412.0 146.0C418.7 144.7 425.3 143.0 432.0 142.0C438.7 141.0 446.3 140.3 452.0 140.0C457.7 139.7 463.7 140.0 466.0 140.0" fill="none" stroke="#8c8c8c" stroke-width="4.5" filter="url(#b2)"/>
<g filter="url(#b3)" fill="#c6c6c6"><ellipse cx="513" cy="172" rx="17" ry="22" transform="rotate(25 513 172)"/><ellipse cx="492" cy="225" rx="11" ry="34" transform="rotate(22 492 225)"/></g>
<ellipse cx="577" cy="152" rx="10" ry="18" fill="#9c9c9c" filter="url(#b3)"/>
<ellipse cx="526.5" cy="139" rx="19" ry="17" fill="#a4a4a4" filter="url(#b3)"/>
<ellipse cx="526.5" cy="139.5" rx="14.5" ry="12.5" fill="#b6b6b6" filter="url(#b3)"/>
<path d="M497.0 126.0C498.0 124.5 500.3 119.3 503.0 117.0C505.7 114.7 509.5 113.2 513.0 112.0C516.5 110.8 520.7 110.3 524.0 110.0C527.3 109.7 531.5 110.0 533.0 110.0" fill="none" stroke="#868686" stroke-width="5" stroke-linecap="round" filter="url(#b2)"/>
<path d="M496.0 121.0C497.2 119.2 499.5 113.0 503.0 110.0C506.5 107.0 511.7 104.9 517.0 103.0C522.3 101.1 528.9 99.4 535.0 98.5C541.1 97.6 547.7 97.0 553.5 97.5C559.3 98.0 564.8 99.3 570.0 101.5C575.2 103.7 580.5 107.1 585.0 110.5C589.5 113.9 594.0 117.9 597.0 122.0C600.0 126.1 602.0 131.2 603.0 135.0C604.0 138.8 604.0 142.0 603.0 145.0C602.0 148.0 599.5 150.8 597.0 153.0C594.5 155.2 590.8 156.8 588.0 158.0C585.2 159.2 581.3 159.7 580.0 160.0" fill="none" stroke="#9c9c9c" stroke-width="19" filter="url(#b2)"/>
<path d="M496.0 121.0C497.2 119.2 499.5 113.0 503.0 110.0C506.5 107.0 511.7 104.9 517.0 103.0C522.3 101.1 528.9 99.4 535.0 98.5C541.1 97.6 547.7 97.0 553.5 97.5C559.3 98.0 564.8 99.3 570.0 101.5C575.2 103.7 580.5 107.1 585.0 110.5C589.5 113.9 594.0 117.9 597.0 122.0C600.0 126.1 602.0 131.2 603.0 135.0C604.0 138.8 604.0 142.0 603.0 145.0C602.0 148.0 599.5 150.8 597.0 153.0C594.5 155.2 590.8 156.8 588.0 158.0C585.2 159.2 581.3 159.7 580.0 160.0" fill="none" stroke="#dedede" stroke-width="11" stroke-linecap="round" filter="url(#b1)"/>
<path d="M578.0 110.0C580.0 111.0 586.3 113.2 590.0 116.0C593.7 118.8 597.5 123.0 600.0 127.0C602.5 131.0 604.7 135.8 605.0 140.0C605.3 144.2 604.0 148.8 602.0 152.0C600.0 155.2 594.5 157.8 593.0 159.0" fill="none" stroke="#efefef" stroke-width="11" stroke-linecap="round" filter="url(#b2)"/>
<path d="M560.0 146.0C562.0 146.7 568.2 149.7 572.0 150.0C575.8 150.3 580.0 149.5 583.0 148.0C586.0 146.5 588.8 143.7 590.0 141.0C591.2 138.3 590.0 133.5 590.0 132.0" fill="none" stroke="#8c8c8c" stroke-width="4" stroke-linecap="round" filter="url(#b2)"/>
<path d="M575.0 172.0C578.3 171.7 588.8 172.0 595.0 170.0C601.2 168.0 607.8 164.5 612.0 160.0C616.2 155.5 619.0 149.0 620.0 143.0C621.0 137.0 618.3 127.2 618.0 124.0" fill="none" stroke="#cdcdcd" stroke-width="5" filter="url(#b2)"/>
<polygon points="532.3,109.7 545.0,107.6 559.8,112.9 574.7,121.4 583.0,129.8 585.2,137.2 578.9,136.2 574.7,132.0 568.3,133.0 566.2,141.5 562.0,143.6 556.7,136.2 553.5,129.8 548.2,121.4 540.8,114.0 533.4,111.9" fill="#fff"/>
<polygon points="464.1,143.1 470.7,144.6 474.4,147.6 481.9,146.1 486.3,142.4 492.2,140.2 496.7,142.4 497.4,146.9 493.7,151.3 489.3,157.2 484.8,162.4 480.4,163.1 477.4,157.2 473.0,151.3 467.0,148.3 464.1,146.1" fill="#fff"/>
<ellipse cx="476.5" cy="203.5" rx="4.5" ry="6" fill="#fff"/>
<polygon points="490,141 498,143 498,152 492,153 489,147" fill="#fff"/>
</g>
<linearGradient id="gp" x1="533" y1="0" x2="566" y2="0" gradientUnits="userSpaceOnUse"><stop offset="0" stop-color="#7c7c7c"/><stop offset="0.5" stop-color="#9a9a9a"/><stop offset="1" stop-color="#d2d2d2"/></linearGradient>
<path d="M564.4 188.6C564.9 189.6 565.6 195.2 565.0 197.8C564.4 200.4 562.1 203.3 560.5 204.4C558.9 205.5 557.0 204.8 555.2 204.4C553.5 204.0 551.8 201.8 550.0 201.8C548.2 201.8 546.5 202.7 544.7 204.4C542.9 206.2 541.0 210.2 539.4 212.3C537.8 214.4 535.8 216.7 534.8 216.9C533.8 217.1 533.0 215.9 533.5 213.6C534.0 211.3 535.9 206.2 537.5 203.1C539.1 200.0 541.3 196.9 543.4 195.2C545.5 193.4 547.6 192.8 550.0 192.6C552.4 192.4 555.8 194.0 557.8 193.9C559.8 193.8 560.9 192.9 562.0 192.0C563.1 191.1 563.9 187.6 564.4 188.6Z" fill="url(#gp)" stroke="#8a8a8a" stroke-width="0.8"/>
<g shape-rendering="crispEdges"><polygon points="217.8,155.9 229.6,155.9 229.6,160.4 227.4,160.4 227.4,176.7 224.4,176.7 224.4,182.6 221.5,182.6 221.5,176.7 218.5,176.7 218.5,164.8 220.0,164.8 220.0,160.4 217.8,160.4" fill="#1e96f5"/><polygon points="274.8,174.4 281.5,174.4 281.5,179.6 272.3,179.6 272.3,177.4 274.8,177.4" fill="#1e96f5"/><polygon points="278.5,225.6 283.0,222.6 286.7,224.1 286.7,228.5 290.4,228.5 290.4,231.5 284.4,231.5 281.5,228.5 278.5,228.5" fill="#1e96f5"/><polygon points="289.6,234.4 293.3,234.4 293.3,237.4 289.6,237.4" fill="#1e96f5"/><polygon points="188.1,207.8 191.9,204.8 199.3,204.8 203.0,210.0 204.4,211.5 199.3,218.1 203.0,221.1 214.8,224.1 214.8,227.8 203.0,227.8 199.3,224.1 197.0,221.1 191.9,221.1 188.1,215.2" fill="#1e96f5"/><polygon points="208.9,198.1 211.9,195.2 214.8,197.4 223.7,197.4 223.7,201.1 226.7,201.1 226.7,219.6 223.7,222.6 220.7,222.6 220.7,227.8 217.8,227.8 217.8,219.6 214.8,215.9 211.1,213.7 207.4,210.7 214.8,210.7 214.8,204.8 211.9,201.1 208.9,201.1" fill="#f03222"/><polygon points="203.0,210.0 207.4,210.7 211.1,213.7 214.8,215.9 217.8,219.6 217.8,224.1 214.8,225.6 210.4,222.6 204.4,221.1 199.3,218.1 199.3,215.2" fill="#4cb81a"/><polygon points="243.0,213.7 245.9,210.0 257.0,210.0 257.0,216.7 251.9,219.6 248.9,222.6 245.9,218.1" fill="#1e96f5"/><polygon points="223.7,225.6 229.6,224.1 236.3,225.6 243.0,227.0 247.4,230.7 240.0,230.7 240.0,234.4 227.4,234.4 227.4,230.7 223.7,230.7" fill="#1e96f5"/><polygon points="251.1,227.0 257.0,227.0 257.0,230.7 251.1,230.7" fill="#1e96f5"/><polygon points="229.6,213.0 238.5,213.0 238.5,215.2 236.3,218.1 236.3,222.6 229.6,222.6 226.7,224.1 226.7,221.1 229.6,221.1" fill="#f03222"/><polygon points="238.5,213.7 243.0,213.7 245.9,218.1 248.9,222.6 251.1,227.0 251.1,230.7 247.4,230.7 243.0,227.0 236.3,225.6 229.6,224.1 229.6,222.6 236.3,222.6 236.3,218.1" fill="#4cb81a"/><polygon points="248.9,231.5 253.3,231.5 253.3,239.6 248.1,239.6 248.1,236.7 244.4,236.7 244.4,234.4 248.9,234.4" fill="#f03222"/><line x1="165.6" y1="217.1" x2="190.4" y2="217.1" stroke="#000" stroke-width="1.8"/><polygon points="190.4,212.2 199.3,217.1 190.4,222.1" fill="#fff" stroke="#000" stroke-width="1.3"/><line x1="256.3" y1="222.6" x2="285.2" y2="222.6" stroke="#000" stroke-width="1.8"/><polygon points="256.3,217.7 247.4,222.6 256.3,227.8" fill="#fff" stroke="#000" stroke-width="1.3"/></g>
<g shape-rendering="crispEdges"><polygon points="420.4,56.3 423.3,53.0 430.0,53.0 433.4,56.3 433.4,69.6 423.3,69.6 420.4,65.2" fill="#1e96f5"/><polygon points="495.2,79.7 504.8,79.7 504.8,83.0 508.5,83.0 508.5,86.7 504.8,86.7 504.8,90.1 495.2,90.1" fill="#1e96f5"/><polygon points="430.0,91.1 437.4,83.7 453.7,83.7 463.3,94.1 463.3,102.2 457.4,102.2 457.4,100.0 453.7,100.0 450.7,105.2 447.8,105.2 444.8,102.2 440.4,100.7 437.4,97.0 430.0,97.0" fill="#f03222"/><polygon points="433.4,97.8 438.9,97.0 441.1,100.7 444.8,103.0 447.8,106.7 447.8,111.1 453.7,111.1 456.7,115.6 456.7,117.8 450.7,117.8 447.8,114.1 444.8,111.1 444.1,107.4 440.4,103.7 433.4,101.5" fill="#4cb81a"/><polygon points="440.4,103.7 443.3,103.7 443.3,106.7 440.4,106.7" fill="#1e96f5"/><polygon points="447.0,107.4 450.0,107.4 450.0,110.4 447.0,110.4" fill="#1e96f5"/><polygon points="444.1,111.1 447.0,111.1 447.0,114.1 444.1,114.1" fill="#1e96f5"/><polygon points="453.7,111.1 456.7,111.1 456.7,114.1 453.7,114.1" fill="#1e96f5"/><polygon points="451.5,107.4 453.7,107.4 453.7,110.4 451.5,110.4" fill="#f03222"/><polygon points="470.7,100.7 484.1,100.7 487.0,103.7 490.7,103.7 492.2,100.7 495.2,100.7 495.2,103.7 490.7,105.2 487.0,109.6 484.1,114.1 481.9,117.8 478.9,120.7 478.1,114.1 467.8,114.1 467.8,108.1 470.7,105.2" fill="#1e96f5"/><polygon points="447.0,114.3 450.7,114.3 450.7,117.2 456.7,117.2 456.7,114.3 467.8,114.3 470.7,117.2 470.7,120.9 467.0,124.6 464.1,128.3 458.1,128.3 455.2,131.3 450.7,131.3 450.7,127.6 447.0,124.6" fill="#f03222"/><polygon points="467.8,114.3 478.1,114.3 478.1,120.9 474.4,124.6 470.7,124.6 470.7,138.0 478.1,138.0 478.1,143.9 470.7,143.9 467.0,140.2 467.0,132.0 464.1,128.3 467.0,124.6 470.7,120.9 470.7,117.2" fill="#4cb81a"/><polygon points="470.7,124.6 474.4,124.6 474.4,131.3 487.8,131.3 487.8,134.3 484.8,137.2 481.9,140.9 478.1,140.9 478.1,138.0 470.7,138.0" fill="#f03222"/><polygon points="464.1,138.0 467.8,138.0 467.8,140.9 464.1,140.9" fill="#f03222"/><polygon points="474.4,143.9 480.4,142.4 481.1,146.9 475.2,147.6" fill="#1e96f5"/><polygon points="398.9,148.3 402.6,148.3 402.6,151.3 405.6,151.3 405.6,158.0 398.9,158.0" fill="#1e96f5"/><polygon points="416.7,161.7 420.4,161.7 420.4,158.7 423.3,158.7 423.3,161.7 427.0,161.7 427.0,164.6 423.3,164.6 423.3,168.3 416.7,168.3" fill="#1e96f5"/><polygon points="628.1,151.5 631.9,147.8 640.7,147.8 641.5,144.8 648.1,144.8 648.1,147.8 654.8,147.8 654.8,154.4 658.5,154.4 658.5,164.8 645.2,164.8 645.2,161.1 638.5,161.1 634.8,158.1 634.8,155.2 628.1,155.2" fill="#f03222"/><polygon points="620.7,144.8 626.7,144.8 626.7,151.5 623.7,151.5 623.7,154.4 617.8,154.4 617.8,151.5 620.7,151.5" fill="#f03222"/><polygon points="644.4,128.2 648.1,128.2 648.1,137.4 644.4,137.4" fill="#f03222"/><line x1="426.3" y1="134.7" x2="457.4" y2="134.7" stroke="#000" stroke-width="1.8"/><polygon points="457.4,129.4 467.0,134.7 457.4,139.9" fill="#fff" stroke="#000" stroke-width="1.3"/></g>
<g font-family="Liberation Sans, sans-serif" font-weight="bold" font-size="34" fill="#000">
<text x="7.4" y="32.4">A</text><text x="8.6" y="290.2">B</text></g>
<g font-family="DejaVu Sans, Liberation Sans, sans-serif" fill="#111">
<text x="224.5" y="287.3" font-size="17.6" text-anchor="middle">z=60</text>
<text x="527" y="287.5" font-size="17.6" text-anchor="middle">x=6</text>
<text x="221" y="360.7" font-size="24.4" text-anchor="middle">Precuneus</text>
<text x="529" y="360.5" font-size="24.4" text-anchor="middle">PCC</text>
<text x="528" y="677.1" font-size="24.4" text-anchor="middle">ADHD symptom score</text>
<text transform="translate(51.6 495.8) rotate(-90)" font-size="24.4" text-anchor="middle">NACc connectivity sstrength</text>
<text x="704.5" y="406.2" font-size="24.4">HC</text>
<text x="704.5" y="444.6" font-size="24.4">DBD-PCB</text>
<text x="704.5" y="482.7" font-size="24.4">DBD-MPH</text>
<text x="728.6" y="52.2" font-size="24.2" fill="#1e96f5">group differences</text>
<text x="728.8" y="83.9" font-size="24.4" fill="#f03222">ADHD regression</text>
</g>
<circle cx="684.5" cy="398.1" r="10" fill="#000"/>
<path d="M674.5 436.5h20M684.5 426.5v20" stroke="#555" stroke-width="4.6" fill="none"/>
<path d="M684.5 462l9.3 12l-9.3 12l-9.3 -12z" fill="#b0b0b0"/>
<defs><clipPath id="cb"><circle cx="696.2" cy="49.5" r="20.8"/></clipPath></defs>
<circle cx="696.2" cy="49.5" r="20.8" fill="#1e96f5"/>
<circle cx="696.2" cy="74.4" r="20.8" fill="#f03222"/>
<circle cx="696.2" cy="74.4" r="20.8" fill="#4cb81a" clip-path="url(#cb)"/>
<path d="M122.5 375V610.2H330.5" fill="none" stroke="#262626" stroke-width="2"/><path d="M122.5 376h3M122.5 454h3M122.5 532h3M122.5 610h3M226.0 610v-3M329.5 610v-3" stroke="#262626" stroke-width="1.6" fill="none"/><g font-family="Liberation Sans, sans-serif" font-size="27.5" fill="#262626"><text x="110.5" y="386.0" text-anchor="end">0.4</text><text x="110.5" y="464.0" text-anchor="end">0.2</text><text x="110.5" y="542.0" text-anchor="end">0</text><text x="110.5" y="619.6" text-anchor="end">-0.2</text><text x="121.5" y="642.4" text-anchor="middle">0</text><text x="223.9" y="642.4" text-anchor="middle">10</text><text x="329.0" y="642.4" text-anchor="middle">20</text></g><path d="M431.5 375V610.2H639.5" fill="none" stroke="#262626" stroke-width="2"/><path d="M431.5 376h3M431.5 454h3M431.5 532h3M431.5 610h3M535.0 610v-3M638.5 610v-3" stroke="#262626" stroke-width="1.6" fill="none"/><g font-family="Liberation Sans, sans-serif" font-size="27.5" fill="#262626"><text x="419.5" y="386.0" text-anchor="end">0.4</text><text x="419.5" y="464.0" text-anchor="end">0.2</text><text x="419.5" y="542.0" text-anchor="end">0</text><text x="419.5" y="619.6" text-anchor="end">-0.2</text><text x="430.5" y="642.4" text-anchor="middle">0</text><text x="532.9" y="642.4" text-anchor="middle">10</text><text x="638.0" y="642.4" text-anchor="middle">20</text></g><g fill="#000"><circle cx="122.7" cy="523.4" r="4.1"/><circle cx="122.7" cy="549.8" r="4.1"/><circle cx="133.0" cy="477.4" r="4.1"/><circle cx="133.0" cy="496.5" r="4.1"/><circle cx="133.0" cy="513.4" r="4.1"/><circle cx="133.0" cy="524.0" r="4.1"/><circle cx="143.3" cy="478.6" r="4.1"/><circle cx="143.3" cy="498.9" r="4.1"/><circle cx="143.3" cy="506.3" r="4.1"/><circle cx="153.5" cy="462.2" r="4.1"/><circle cx="153.5" cy="499.3" r="4.1"/><circle cx="153.5" cy="518.7" r="4.1"/><circle cx="153.5" cy="553.0" r="4.1"/><circle cx="163.6" cy="514.0" r="4.1"/><circle cx="163.6" cy="530.4" r="4.1"/><circle cx="163.6" cy="539.7" r="4.1"/><circle cx="163.6" cy="545.1" r="4.1"/><circle cx="163.6" cy="580.1" r="4.1"/><circle cx="174.3" cy="517.6" r="4.1"/><circle cx="174.3" cy="526.2" r="4.1"/><circle cx="174.3" cy="532.7" r="4.1"/><circle cx="184.6" cy="474.4" r="4.1"/><circle cx="195.1" cy="488.4" r="4.1"/><circle cx="199.0" cy="537.9" r="4.1"/><circle cx="205.4" cy="510.6" r="4.1"/><circle cx="225.9" cy="465.5" r="4.1"/><circle cx="267.5" cy="501.4" r="4.1"/></g><g stroke="#555" stroke-width="2.5" fill="none"><path d="M158.1 469.7h11M163.6 464.2v11"/><path d="M137.8 498.9h11M143.3 493.4v11"/><path d="M189.6 467.4h11M195.1 461.9v11"/><path d="M189.6 474.8h11M195.1 469.3v11"/><path d="M199.9 486.7h11M205.4 481.2v11"/><path d="M179.1 524.6h11M184.6 519.1v11"/><path d="M168.8 516.4h11M174.3 510.9v11"/><path d="M220.4 466.7h11M225.9 461.2v11"/><path d="M293.1 453.0h11M298.6 447.5v11"/><path d="M293.1 469.4h11M298.6 463.9v11"/><path d="M293.1 476.9h11M298.6 471.4v11"/><path d="M272.5 464.2h11M278.0 458.7v11"/><path d="M272.5 485.0h11M278.0 479.5v11"/><path d="M262.0 467.7h11M267.5 462.2v11"/><path d="M231.0 478.3h11M236.5 472.8v11"/><path d="M251.5 499.7h11M257.0 494.2v11"/></g><g fill="#b0b0b0"><path d="M122.7 485.6l4.9 6.7l-4.9 6.7l-4.9 -6.7z"/><path d="M163.6 481.7l4.9 6.7l-4.9 6.7l-4.9 -6.7z"/><path d="M163.6 492.2l4.9 6.7l-4.9 6.7l-4.9 -6.7z"/><path d="M163.6 498.0l4.9 6.7l-4.9 6.7l-4.9 -6.7z"/><path d="M184.6 499.3l4.9 6.7l-4.9 6.7l-4.9 -6.7z"/><path d="M199.0 505.0l4.9 6.7l-4.9 6.7l-4.9 -6.7z"/><path d="M205.4 510.9l4.9 6.7l-4.9 6.7l-4.9 -6.7z"/><path d="M215.4 512.0l4.9 6.7l-4.9 6.7l-4.9 -6.7z"/><path d="M225.9 499.2l4.9 6.7l-4.9 6.7l-4.9 -6.7z"/><path d="M267.5 397.8l4.9 6.7l-4.9 6.7l-4.9 -6.7z"/><path d="M267.5 452.9l4.9 6.7l-4.9 6.7l-4.9 -6.7z"/><path d="M236.5 476.7l4.9 6.7l-4.9 6.7l-4.9 -6.7z"/><path d="M236.5 489.5l4.9 6.7l-4.9 6.7l-4.9 -6.7z"/><path d="M257.0 474.3l4.9 6.7l-4.9 6.7l-4.9 -6.7z"/><path d="M246.5 532.0l4.9 6.7l-4.9 6.7l-4.9 -6.7z"/><path d="M278.0 504.0l4.9 6.7l-4.9 6.7l-4.9 -6.7z"/><path d="M288.1 493.5l4.9 6.7l-4.9 6.7l-4.9 -6.7z"/><path d="M288.1 511.7l4.9 6.7l-4.9 6.7l-4.9 -6.7z"/></g><g stroke-width="2.9" stroke-linecap="butt" fill="none"><path d="M122.5 506.5L329.5 488.7" stroke="#b0b0b0"/><path d="M122.5 518.2L329.5 486.5" stroke="#000"/><path d="M122.5 500.2L329.5 463.0" stroke="#555"/></g><g fill="#000"><circle cx="431.5" cy="502.0" r="4.1"/><circle cx="431.5" cy="521.4" r="4.1"/><circle cx="441.3" cy="455.6" r="4.1"/><circle cx="441.3" cy="463.7" r="4.1"/><circle cx="441.3" cy="485.9" r="4.1"/><circle cx="441.3" cy="506.2" r="4.1"/><circle cx="441.3" cy="514.4" r="4.1"/><circle cx="452.1" cy="475.9" r="4.1"/><circle cx="462.4" cy="449.0" r="4.1"/><circle cx="462.4" cy="473.1" r="4.1"/><circle cx="462.4" cy="513.2" r="4.1"/><circle cx="462.4" cy="519.1" r="4.1"/><circle cx="472.6" cy="456.5" r="4.1"/><circle cx="472.6" cy="502.7" r="4.1"/><circle cx="472.6" cy="513.2" r="4.1"/><circle cx="472.6" cy="521.9" r="4.1"/><circle cx="472.6" cy="527.2" r="4.1"/><circle cx="472.6" cy="529.6" r="4.1"/><circle cx="482.9" cy="501.6" r="4.1"/><circle cx="482.9" cy="507.9" r="4.1"/><circle cx="493.2" cy="475.9" r="4.1"/><circle cx="503.9" cy="456.7" r="4.1"/><circle cx="503.9" cy="461.9" r="4.1"/><circle cx="507.2" cy="529.6" r="4.1"/><circle cx="514.2" cy="482.9" r="4.1"/><circle cx="534.7" cy="470.7" r="4.1"/><circle cx="575.9" cy="488.5" r="4.1"/></g><g stroke="#555" stroke-width="2.5" fill="none"><path d="M467.1 448.3h11M472.6 442.8v11"/><path d="M446.6 478.9h11M452.1 473.4v11"/><path d="M498.4 445.5h11M503.9 440.0v11"/><path d="M498.4 474.7h11M503.9 469.2v11"/><path d="M508.7 460.2h11M514.2 454.7v11"/><path d="M529.2 460.2h11M534.7 454.7v11"/><path d="M477.4 514.4h11M482.9 508.9v11"/><path d="M487.7 512.1h11M493.2 506.6v11"/><path d="M601.2 421.1h11M606.7 415.6v11"/><path d="M580.7 441.8h11M586.2 436.3v11"/><path d="M580.7 456.1h11M586.2 450.6v11"/><path d="M601.2 449.5h11M606.7 444.0v11"/><path d="M539.3 465.2h11M544.8 459.7v11"/><path d="M601.2 479.9h11M606.7 474.4v11"/></g><g fill="#b0b0b0"><path d="M431.5 476.2l4.9 6.7l-4.9 6.7l-4.9 -6.7z"/><path d="M472.6 478.5l4.9 6.7l-4.9 6.7l-4.9 -6.7z"/><path d="M493.2 478.5l4.9 6.7l-4.9 6.7l-4.9 -6.7z"/><path d="M503.9 480.9l4.9 6.7l-4.9 6.7l-4.9 -6.7z"/><path d="M507.2 487.9l4.9 6.7l-4.9 6.7l-4.9 -6.7z"/><path d="M513.7 512.4l4.9 6.7l-4.9 6.7l-4.9 -6.7z"/><path d="M524.2 505.8l4.9 6.7l-4.9 6.7l-4.9 -6.7z"/><path d="M534.7 498.4l4.9 6.7l-4.9 6.7l-4.9 -6.7z"/><path d="M544.1 468.0l4.9 6.7l-4.9 6.7l-4.9 -6.7z"/><path d="M544.1 486.7l4.9 6.7l-4.9 6.7l-4.9 -6.7z"/><path d="M575.9 406.6l4.9 6.7l-4.9 6.7l-4.9 -6.7z"/><path d="M575.9 456.8l4.9 6.7l-4.9 6.7l-4.9 -6.7z"/><path d="M586.2 459.2l4.9 6.7l-4.9 6.7l-4.9 -6.7z"/><path d="M586.2 497.2l4.9 6.7l-4.9 6.7l-4.9 -6.7z"/><path d="M596.4 467.3l4.9 6.7l-4.9 6.7l-4.9 -6.7z"/><path d="M596.4 490.7l4.9 6.7l-4.9 6.7l-4.9 -6.7z"/><path d="M565.9 470.9l4.9 6.7l-4.9 6.7l-4.9 -6.7z"/><path d="M555.4 497.2l4.9 6.7l-4.9 6.7l-4.9 -6.7z"/><path d="M606.7 472.0l4.9 6.7l-4.9 6.7l-4.9 -6.7z"/></g><g stroke-width="2.9" stroke-linecap="butt" fill="none"><path d="M431.5 498.0L638.5 472.4" stroke="#b0b0b0"/><path d="M431.5 495.3L638.5 479.4" stroke="#000"/><path d="M431.5 488.7L638.5 445.3" stroke="#555"/></g>
</svg>
</body></html>
